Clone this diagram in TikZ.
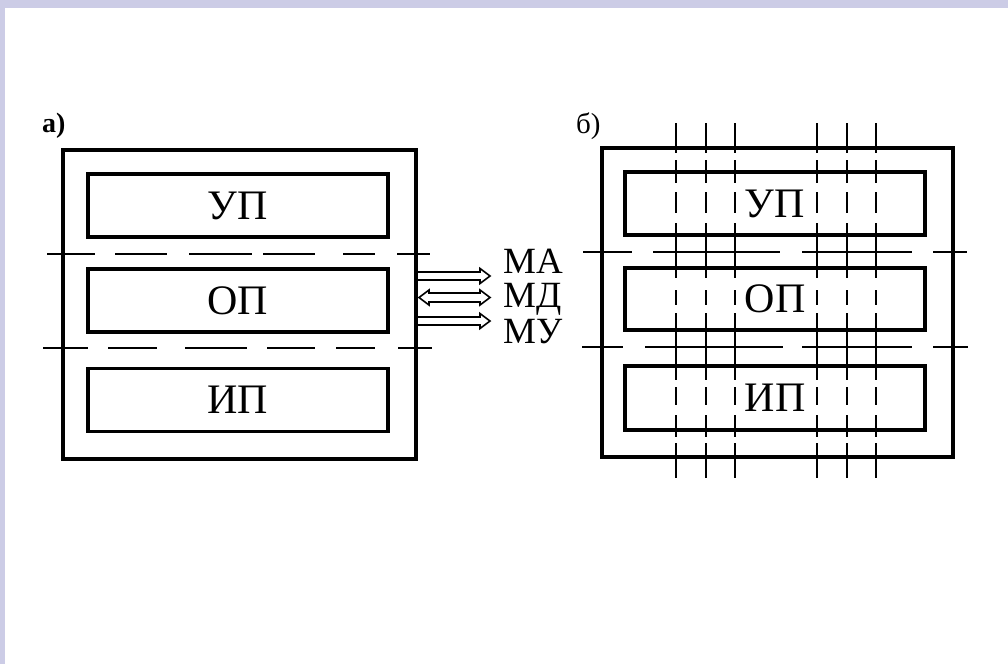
\documentclass[tikz,border=0pt]{standalone}
\usepackage{fontspec}
\setmainfont{Liberation Serif}
\usetikzlibrary{calc}
\definecolor{lav}{RGB}{204,204,230}
\begin{document}
\begin{tikzpicture}[x=1pt,y=-1pt,
  outerbox/.style={draw,line width=4pt,inner sep=0pt,outer sep=0pt,minimum width=353pt,minimum height=309pt},
  innerbox/.style={draw,line width=3.2pt,inner sep=0pt,outer sep=0pt,minimum width=300pt,minimum height=63pt,font=\fontsize{42}{42}\selectfont},
  sepline/.style={line width=1.6pt},
  gridline/.style={line width=2pt,dash pattern=on 30pt off 7pt on 23pt off 9pt on 21pt off 10pt on 55pt off 12pt on 15pt off 8pt on 67pt off 7pt on 18pt off 10pt on 22pt off 6pt on 35pt off 50pt},
  bus/.style={line width=1.6pt,line join=miter},
  buslabel/.style={anchor=base west,inner sep=0pt,font=\fontsize{37}{37}\selectfont},
  partlabel/.style={anchor=base west,inner sep=0pt}
  ]
\fill[lav] (0,0) rectangle (1008,664);
\fill[white] (4.5,8) rectangle (1008,664);
\useasboundingbox (0,0) rectangle (1008,664);

% left figure
\node[outerbox] (A) at (239.5,304.5) {};
\node[innerbox] (A1) at (238,205.5) {УП};
\node[innerbox] (A2) at (238,300.5) {ОП};
\node[innerbox] (A3) at (238,400) {ИП};
\foreach \a/\b in {47/95,115/167,189/252,263/315,343/375,397/430}
  \draw[sepline] (\a,254) -- (\b,254);
\foreach \a/\b in {43/88,108/157,185/247,267/315,336/375,398/432}
  \draw[sepline] (\a,348) -- (\b,348);
\node[partlabel,font=\fontsize{28}{28}\selectfont\bfseries] (la) at (42,132) {а)};

% buses
\coordinate (ma1) at (416,276);
\coordinate (ma2) at (490,276);
\coordinate (md1) at (419,297.5);
\coordinate (md2) at (490,297.5);
\coordinate (mu1) at (416,321);
\coordinate (mu2) at (490,321);
\draw[bus] ($(ma1)+(0,-4)$) -- ($(ma2)+(-10,-4)$) -- ($(ma2)+(-10,-7.5)$) -- (ma2) -- ($(ma2)+(-10,7.5)$) -- ($(ma2)+(-10,4)$) -- ($(ma1)+(0,4)$);
\draw[bus] ($(md1)+(10,-4.5)$) -- ($(md2)+(-10,-4.5)$) -- ($(md2)+(-10,-7.5)$) -- (md2) -- ($(md2)+(-10,7.5)$) -- ($(md2)+(-10,4.5)$) -- ($(md1)+(10,4.5)$) -- ($(md1)+(10,7.5)$) -- (md1) -- ($(md1)+(10,-7.5)$) -- cycle;
\draw[bus] ($(mu1)+(0,-4)$) -- ($(mu2)+(-10,-4)$) -- ($(mu2)+(-10,-7.5)$) -- (mu2) -- ($(mu2)+(-10,7.5)$) -- ($(mu2)+(-10,4)$) -- ($(mu1)+(0,4)$);
\node[buslabel] (lma) at (503,273) {МА};
\node[buslabel] (lmd) at (503,307) {МД};
\node[buslabel] (lmu) at (503,343) {МУ};

% right figure
\node[outerbox,minimum width=351pt] (B) at (777.5,302.5) {};
\node[innerbox] (B1) at (775,203.5) {УП};
\node[innerbox,minimum height=62pt] (B2) at (775,299) {ОП};
\node[innerbox,minimum height=64pt] (B3) at (775,398) {ИП};
\foreach \a/\b in {583/632,653/780,802/912,933/967}
  \draw[sepline] (\a,252) -- (\b,252);
\foreach \a/\b in {582/623,645/783,802/912,933/968}
  \draw[sepline] (\a,347) -- (\b,347);
\foreach \x in {676,706,735,817,847,876}
  \draw[gridline] (\x,123) -- (\x,478);
\node[partlabel,font=\fontsize{29}{29}\selectfont] (lb) at (576,133) {б)};
\end{tikzpicture}
\end{document}
